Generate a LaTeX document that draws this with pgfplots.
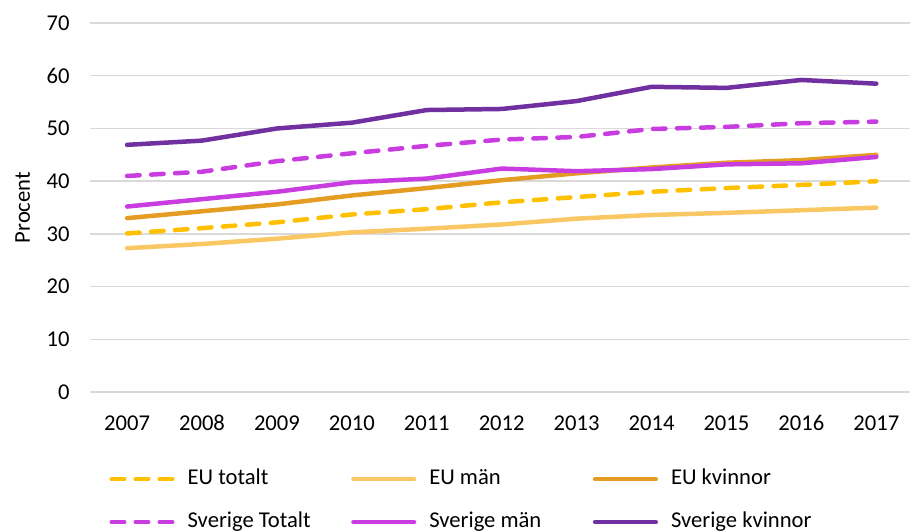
\documentclass[border=0pt]{standalone}
\usepackage{pgfplots}
\pgfplotsset{compat=1.18}
\usepackage{fontspec}
\setmainfont{Carlito}

\definecolor{euTot}{HTML}{FFC000}
\definecolor{euMan}{HTML}{F9C764}
\definecolor{euKv}{HTML}{E49D22}
\definecolor{seTot}{HTML}{C83CE0}
\definecolor{seKv}{HTML}{7030A0}
\definecolor{gridgray}{HTML}{D9D9D9}

% andel i procent, 2007-2017
\pgfplotstableread{
year EUtot EUman EUkv SEtot SEman SEkv
2007 30.1 27.3 33.0 41.0 35.2 46.9
2008 31.1 28.1 34.3 41.8 36.6 47.7
2009 32.2 29.1 35.6 43.8 38.0 50.0
2010 33.7 30.3 37.3 45.3 39.8 51.1
2011 34.7 31.0 38.7 46.7 40.5 53.5
2012 36.0 31.8 40.2 47.9 42.4 53.7
2013 37.0 32.9 41.5 48.4 41.9 55.2
2014 38.0 33.6 42.6 49.9 42.3 57.9
2015 38.7 34.0 43.5 50.3 43.2 57.7
2016 39.3 34.5 44.0 51.0 43.4 59.2
2017 40.0 35.0 45.0 51.3 44.6 58.5
}\data

\begin{document}
\begin{tikzpicture}
\fontsize{11.3bp}{13.6bp}\selectfont
\begin{axis}[
    name=ax,
    scale only axis,
    width=410bp, height=184.5bp,
    xmin=2006.5, xmax=2017.45,
    ymin=0, ymax=70,
    xtick={2007,2008,...,2017},
    ytick={0,10,...,70},
    axis line style={draw=none},
    tick style={draw=none},
    ymajorgrids,
    major grid style={gridgray, line width=0.75bp},
    /pgf/number format/assume math mode=true,
    /pgf/number format/1000 sep={},
    xticklabel style={anchor=base, inner sep=0pt, yshift=-19bp},
    yticklabel style={anchor=east, inner sep=0pt, xshift=-9.8bp},
    ylabel={Procent},
    every axis y label/.style={at={([xshift=-33.5bp]axis description cs:0,0.5)}, rotate=90, anchor=center},
    clip=false,
    every axis plot/.append style={line width=2.25bp, line cap=round, line join=round},
    legend columns=3,
    legend style={draw=none, fill=none, at={(axis description cs:0.0237,-0.206)}, anchor=north west,
        inner sep=0pt, row sep=11bp,
        nodes={inner sep=0pt, anchor=west, text height=8bp, text depth=2.5bp},
        /tikz/every odd column/.append style={column sep=6.5bp}},
    legend image code/.code={\draw[#1] (1.1bp,0bp) -- (31.4bp,0bp);},
]
\addplot[euTot, dash pattern=on 6.25bp off 5.75bp] table[x=year, y=EUtot] {\data};
\addlegendentry{\makebox[81.75bp][l]{EU totalt}}
\addplot[euMan] table[x=year, y=EUman] {\data};
\addlegendentry{\makebox[81.75bp][l]{EU män}}
\addplot[euKv] table[x=year, y=EUkv] {\data};
\addlegendentry{\makebox[81.75bp][l]{EU kvinnor}}
\addplot[seTot, dash pattern=on 6.25bp off 5.75bp] table[x=year, y=SEtot] {\data};
\addlegendentry{\makebox[81.75bp][l]{Sverige Totalt}}
\addplot[seTot] table[x=year, y=SEman] {\data};
\addlegendentry{\makebox[81.75bp][l]{Sverige män}}
\addplot[seKv] table[x=year, y=SEkv] {\data};
\addlegendentry{\makebox[81.75bp][l]{Sverige kvinnor}}
\end{axis}
\pgfresetboundingbox
\path[use as bounding box] ([xshift=-44.8bp, yshift=-69bp]ax.south west) rectangle ([yshift=11.5bp]ax.north east);
\end{tikzpicture}
\end{document}
